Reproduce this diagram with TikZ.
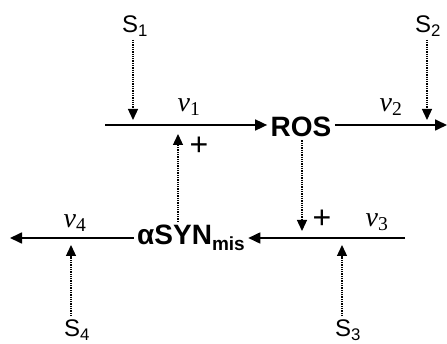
\documentclass[tikz,border=0pt]{standalone}
\usepackage{fontspec}
\setmainfont{Liberation Sans}
\newfontfamily\ratefont{Liberation Serif}
\usepackage{tikz}
\usetikzlibrary{arrows.meta}
\newcommand{\rate}[1]{{\itshape v}\textsubscript{#1}}

\begin{document}
\begin{tikzpicture}[
  x=1pt,y=-1pt,
  sig/.style={font=\fontsize{24}{26}\selectfont},
  met/.style={font=\fontsize{28}{30}\selectfont\bfseries},
  ratelbl/.style={font=\ratefont\fontsize{28}{30}\selectfont},
  sign/.style={font=\fontsize{32}{34}\selectfont},
  flux/.style={-{Triangle[length=12pt,width=11pt]},line width=1.7pt},
  modarr/.style={-{Triangle[length=11pt,width=10pt]},densely dotted,line width=1.3pt}
]
\useasboundingbox (0,0) rectangle (447,344);
\node[met] (ros) at (301,127) {ROS};
\node[met,anchor=base] (asyn) at (191,245) {αSYN\raisebox{-0.35ex}{\fontsize{19}{20}\selectfont mis}};
\node[sig] (s1) at (135,26) {S\textsubscript{1}};
\node[sig] (s2) at (428,26) {S\textsubscript{2}};
\node[sig] (s3) at (348,330) {S\textsubscript{3}};
\node[sig] (s4) at (77,330) {S\textsubscript{4}};
\node[ratelbl] (v1) at (189,107) {\rate{1}};
\node[ratelbl] (v2) at (391,107) {\rate{2}};
\node[ratelbl] (v3) at (377,222) {\rate{3}};
\node[ratelbl] (v4) at (75,223) {\rate{4}};
\node[sign] (plus1) at (199,146) {+};
\node[sign] (plus2) at (322,219) {+};
% free ends
\coordinate (v1in) at (105,125);
\coordinate (v2out) at (447,125);
\coordinate (v3in) at (405,238);
\coordinate (v4out) at (10,238);
\coordinate (s1tip) at (133,120);
\coordinate (s2tip) at (427,120);
\coordinate (s3tip) at (342,245);
\coordinate (s4tip) at (71,245);
\coordinate (uptip) at (178,134);
\coordinate (downtip) at (302,231);
% fluxes
\draw[flux] (v1in) -- (v1in -| ros.west);
\draw[flux] (ros.east |- v2out) -- (v2out);
\draw[flux] (v3in) -- (v3in -| asyn.east);
\draw[flux] (asyn.west |- v4out) -- (v4out);
% modifiers
\draw[modarr] (s1.south -| s1tip) -- (s1tip);
\draw[modarr] (s2.south -| s2tip) -- (s2tip);
\draw[modarr] (s3.north -| s3tip) -- (s3tip);
\draw[modarr] (s4.north -| s4tip) -- (s4tip);
\draw[modarr] (asyn.north -| uptip) -- (uptip);
\draw[modarr] (ros.south -| downtip) -- (downtip);
\end{tikzpicture}
\end{document}
